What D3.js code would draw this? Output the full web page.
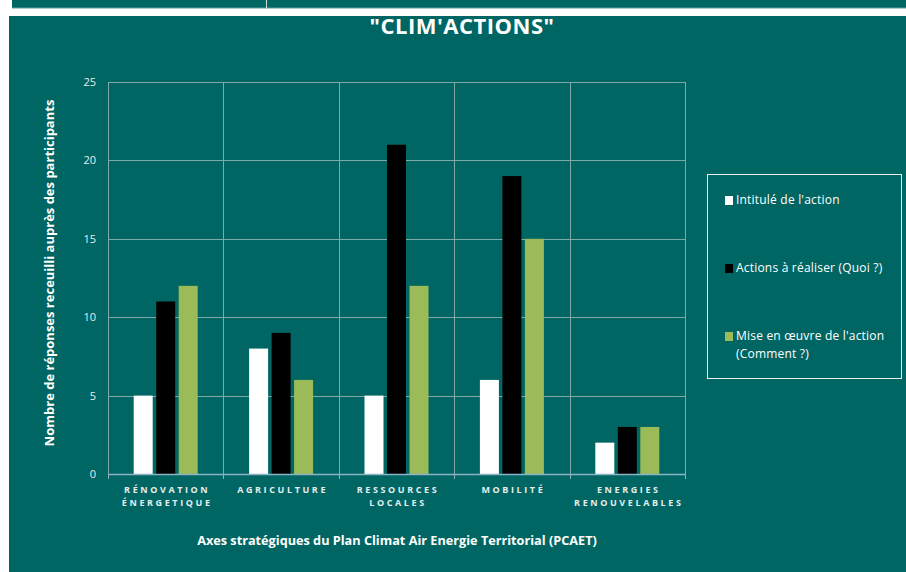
<!DOCTYPE html>
<html><head><meta charset="utf-8">
<script src="https://cdn.jsdelivr.net/npm/d3@7"></script>
<style>body{margin:0;background:#fff;}svg{display:block;font-family:"Open Sans",Lato,sans-serif;}</style>
</head><body><svg id="c" width="906" height="572"></svg>
<script>
const categories = [["RÉNOVATION","ÉNERGETIQUE"],["AGRICULTURE"],["RESSOURCES","LOCALES"],["MOBILITÉ"],["ENERGIES","RENOUVELABLES"]];
const seriesNames = ["Intitulé de l'action","Actions à réaliser (Quoi ?)","Mise en œuvre de l'action"];
const intitule = [5, 8, 5, 6, 2];
const actions = [11, 9, 21, 19, 3];
const miseEnOeuvre = [12, 6, 12, 15, 3];
const yTicks = [0, 5, 10, 15, 20, 25];
const colors = ["#ffffff", "#000000", "#9bbb59"];
const series = [intitule, actions, miseEnOeuvre];

const svg = d3.select("#c");
const teal = "#006663";
// top strip
svg.append("rect").attr("x",12).attr("y",0).attr("width",894).attr("height",8).attr("fill",teal);
svg.append("line").attr("x1",12).attr("x2",906).attr("y1",8).attr("y2",8).attr("stroke","#5f9f9c").attr("stroke-width",1);
svg.append("line").attr("x1",266.5).attr("x2",266.5).attr("y1",0).attr("y2",8).attr("stroke","#cfe0e0").attr("stroke-width",1);
// main panel
svg.append("rect").attr("x",9).attr("y",16).attr("width",897).attr("height",556).attr("fill",teal);

svg.append("text").attr("x",462).attr("y",34).attr("text-anchor","middle").attr("fill","#ffffff")
  .attr("font-size",22).attr("font-weight","bold")
  .attr("letter-spacing",0.5).text("\"CLIM'ACTIONS\"");

const L=108, R=685, T=82, B=474;
const x = d3.scaleBand().domain(d3.range(categories.length)).range([L,R]);
const y = d3.scaleLinear().domain([0,25]).range([B,T]);

const g = svg.append("g");
// horizontal grid
g.selectAll(".hg").data(yTicks.slice(1)).join("line")
  .attr("x1",L).attr("x2",R).attr("y1",d=>Math.round(y(d))+0.5).attr("y2",d=>Math.round(y(d))+0.5)
  .attr("stroke","#7fa9a7").attr("stroke-width",1);
// vertical grid
g.selectAll(".vg").data(d3.range(categories.length+1)).join("line")
  .attr("x1",d=>Math.round(L+d*x.step())+0.5).attr("x2",d=>Math.round(L+d*x.step())+0.5)
  .attr("y1",T).attr("y2",B).attr("stroke","#7fa9a7").attr("stroke-width",1);

// bars
const bw = 19, gap = 3.5;
series.forEach((s,si)=>{
  g.selectAll(".b"+si).data(s).join("rect")
    .attr("x",(d,i)=>x(i)+x.bandwidth()/2 + (si-1)*(bw+gap) - bw/2)
    .attr("y",d=>y(d)).attr("width",bw).attr("height",d=>y(0)-y(d))
    .attr("fill",colors[si]);
});

// x axis line
g.append("line").attr("x1",L).attr("x2",R).attr("y1",B+0.5).attr("y2",B+0.5).attr("stroke","#8fb3c6").attr("stroke-width",1.5);
g.selectAll(".xt").data(d3.range(categories.length+1)).join("line")
  .attr("x1",d=>Math.round(L+d*x.step())+0.5).attr("x2",d=>Math.round(L+d*x.step())+0.5)
  .attr("y1",B).attr("y2",B+5).attr("stroke","#8fb3c6").attr("stroke-width",1);

// y tick labels
g.selectAll(".yl").data(yTicks).join("text")
  .attr("x",96).attr("y",d=>y(d)+4).attr("text-anchor","end").attr("fill","#e6eeee")
  .attr("font-size",11).text(d=>d);

// category labels
categories.forEach((c,i)=>{
  c.forEach((line,li)=>{
    g.append("text").attr("x",x(i)+x.bandwidth()/2+1.5).attr("y",493+li*13).attr("text-anchor","middle")
      .attr("fill","#e6eeee").attr("font-size",9).attr("font-weight","bold").attr("letter-spacing",2.6)
      .text(line);
  });
});

// axis titles
svg.append("text").attr("x",397).attr("y",545).attr("text-anchor","middle").attr("fill","#ffffff")
  .attr("font-size",12.7).attr("font-weight","bold").text("Axes stratégiques du Plan Climat Air Energie Territorial (PCAET)");
svg.append("text").attr("transform","translate(54,273) rotate(-90)").attr("text-anchor","middle").attr("fill","#ffffff")
  .attr("font-size",13).attr("font-weight","bold").text("Nombre de réponses receuilli auprès des participants");

// legend
svg.append("rect").attr("x",707.5).attr("y",174.5).attr("width",194).attr("height",204)
  .attr("fill","none").attr("stroke","#e8f0f0").attr("stroke-width",1);
const legY = [200, 268, 336];
const legLines = [[seriesNames[0]],[seriesNames[1]],[seriesNames[2],"(Comment ?)"]];
legLines.forEach((lines,i)=>{
  svg.append("rect").attr("x",725).attr("y",legY[i]-4).attr("width",8).attr("height",9).attr("fill",colors[i]);
  lines.forEach((t,li)=>{
    svg.append("text").attr("x",736).attr("y",legY[i]+4+li*18).attr("fill","#ffffff").attr("font-size",12)
      .attr("letter-spacing",0.2).text(t);
  });
});
</script></body></html>
